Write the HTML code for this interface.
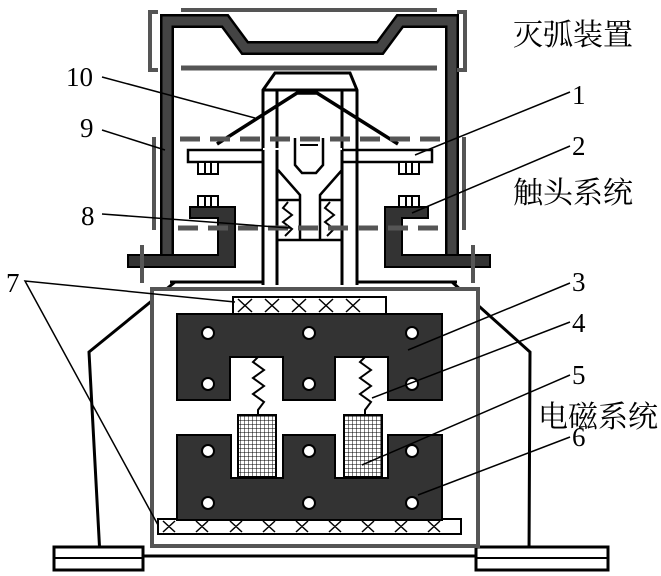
<!DOCTYPE html>
<html><head><meta charset="utf-8"><style>
html,body{margin:0;padding:0;background:#fff;}
svg{display:block;}
.n{font-family:"Liberation Serif",serif;font-size:27px;fill:#000;}
.c{font-family:"Liberation Serif","Noto Serif CJK SC","Noto Sans CJK SC",serif;font-size:30px;fill:#000;}
</style></head><body>
<svg width="661" height="576" viewBox="0 0 661 576" xmlns="http://www.w3.org/2000/svg">
<defs>
<pattern id="mesh" width="4" height="4" patternUnits="userSpaceOnUse"><rect width="4" height="4" fill="#fff"/><path d="M0 0H4M0 0V4" stroke="#000" stroke-width="1"/></pattern>
</defs>
<!-- housing -->
<path d="M175 282 L89 352 L100 556" fill="none" stroke="#000" stroke-width="3"/>
<path d="M452 282 L530 352 L529 556" fill="none" stroke="#000" stroke-width="3"/>
<line x1="170" y1="282" x2="457" y2="282" stroke="#000" stroke-width="3"/>
<rect x="54" y="547" width="89" height="23" fill="#fff" stroke="#000" stroke-width="3"/>
<line x1="54" y1="558" x2="143" y2="558" stroke="#000" stroke-width="2"/>
<rect x="476" y="547" width="132" height="23" fill="#fff" stroke="#000" stroke-width="3"/>
<line x1="476" y1="558" x2="608" y2="558" stroke="#000" stroke-width="2"/>
<line x1="143" y1="556" x2="476" y2="556" stroke="#000" stroke-width="3"/>
<!-- gray box -->
<rect x="152" y="289" width="326" height="257" fill="#fff" stroke="#555" stroke-width="4"/>
<!-- coils -->
<rect x="233" y="297" width="153" height="17" fill="#fff" stroke="#000" stroke-width="2"/>
<path d="M238 299 L252 312 M252 299 L238 312 M265 299 L279 312 M279 299 L265 312 M292 299 L306 312 M306 299 L292 312 M319 299 L333 312 M333 299 L319 312 M346 299 L360 312 M360 299 L346 312" stroke="#000" stroke-width="1.5"/>
<rect x="158" y="519" width="303" height="15" fill="#fff" stroke="#000" stroke-width="2"/>
<path d="M163 521 L175 532 M175 521 L163 532 M196 521 L208 532 M208 521 L196 532 M230 521 L242 532 M242 521 L230 532 M263 521 L275 532 M275 521 L263 532 M296 521 L308 532 M308 521 L296 532 M329 521 L341 532 M341 521 L329 532 M362 521 L374 532 M374 521 L362 532 M395 521 L407 532 M407 521 L395 532 M428 521 L440 532 M440 521 L428 532" stroke="#000" stroke-width="1.5"/>
<!-- upper E core -->
<path d="M177 314 H442 V400 H388 V357 H335 V400 H283 V357 H230 V400 H177 Z" fill="#333" stroke="#000" stroke-width="2"/>
<!-- lower E core -->
<path d="M177 435 H231 V478 H283 V435 H335 V478 H388 V435 H442 V520 H177 Z" fill="#333" stroke="#000" stroke-width="2"/>
<g fill="#fff" stroke="#000" stroke-width="2">
<circle cx="208" cy="333" r="6"/><circle cx="309" cy="333" r="6"/><circle cx="412" cy="333" r="6"/>
<circle cx="208" cy="384" r="6"/><circle cx="309" cy="384" r="6"/><circle cx="412" cy="384" r="6"/>
<circle cx="208" cy="451" r="6"/><circle cx="309" cy="451" r="6"/><circle cx="412" cy="451" r="6"/>
<circle cx="208" cy="503" r="6"/><circle cx="309" cy="503" r="6"/><circle cx="412" cy="503" r="6"/>
</g>
<!-- springs -->
<path d="M258 357 L253 362 L264 370 L253 378 L264 386 L253 394 L264 402 L258 410 L258 415" fill="none" stroke="#000" stroke-width="2"/>
<path d="M365 357 L360 362 L371 370 L360 378 L371 386 L360 394 L371 402 L365 410 L365 415" fill="none" stroke="#000" stroke-width="2"/>
<rect x="238" y="415" width="38" height="62" fill="url(#mesh)" stroke="#000" stroke-width="2"/>
<rect x="344" y="415" width="38" height="62" fill="url(#mesh)" stroke="#000" stroke-width="2"/>
<!-- arc chamber frame -->
<path d="M167 255 V21 H225 L245 48 H380 L400 21 H452 V255" fill="none" stroke="#000" stroke-width="14"/>
<path d="M167 255 V21 H225 L245 48 H380 L400 21 H452 V255" fill="none" stroke="#444" stroke-width="9"/>
<!-- gray brackets top -->
<path d="M158 12 H150 V70 H158" fill="none" stroke="#555" stroke-width="4"/>
<path d="M457 12 H465 V70 H457" fill="none" stroke="#555" stroke-width="4"/>
<line x1="181" y1="10" x2="437" y2="10" stroke="#555" stroke-width="4"/>
<line x1="181" y1="68" x2="437" y2="68" stroke="#555" stroke-width="5"/>
<!-- tube -->
<path d="M263 285 V90 L275 73 H350 L357 90 V285" fill="#fff" stroke="#000" stroke-width="3"/>
<line x1="263" y1="90" x2="357" y2="90" stroke="#000" stroke-width="3"/>
<line x1="277" y1="90" x2="277" y2="285" stroke="#000" stroke-width="3"/>
<line x1="342" y1="90" x2="342" y2="285" stroke="#000" stroke-width="3"/>
<!-- Y shape -->
<path d="M295 138 V165 L302 173 H316 L323 165 V138" fill="none" stroke="#000" stroke-width="2.5"/>
<path d="M278 170 L300 195 V240 M342 170 L320 195 V240 M277 200 H300 M320 200 H342 M277 240 H342" fill="none" stroke="#000" stroke-width="2.5"/>
<path d="M300 145 H318 M300 160 H318" stroke="#000" stroke-width="2"/>
<path d="M288 202 L283 208 L292 215 L283 222 L292 229 L285 236" fill="none" stroke="#000" stroke-width="2"/>
<path d="M330 202 L325 208 L334 215 L325 222 L334 229 L327 236" fill="none" stroke="#000" stroke-width="2"/>
<!-- moving contact bar -->
<rect x="188" y="150" width="244" height="12" fill="#fff" stroke="#000" stroke-width="2.5"/>
<rect x="263" y="148" width="79" height="16" fill="#fff"/>
<line x1="263" y1="150" x2="263" y2="164" stroke="#000" stroke-width="3"/>
<line x1="277" y1="150" x2="277" y2="164" stroke="#000" stroke-width="3"/>
<line x1="342" y1="150" x2="342" y2="164" stroke="#000" stroke-width="3"/>
<line x1="357" y1="150" x2="357" y2="164" stroke="#000" stroke-width="3"/>
<path d="M295 148 V164 M323 148 V164" stroke="#000" stroke-width="2.5"/>
<!-- bridge V -->
<path d="M217 144 L297 93 H317 L398 144" fill="none" stroke="#000" stroke-width="3.5"/>
<!-- contact tips -->
<g fill="#fff" stroke="#000" stroke-width="2">
<rect x="198" y="162" width="20" height="12"/><rect x="399" y="162" width="20" height="12"/>
<rect x="198" y="196" width="20" height="12"/><rect x="399" y="196" width="20" height="12"/>
</g>
<path d="M205 163 V173 M211 163 V173 M406 163 V173 M412 163 V173 M205 197 V207 M211 197 V207 M406 197 V207 M412 197 V207" stroke="#000" stroke-width="2"/>
<!-- brackets (stationary contacts) -->
<path d="M190 207 H235 V267 H128 V255 H218 V218 H190 Z" fill="#333" stroke="#000" stroke-width="2"/>
<path d="M428 207 H385 V267 H490 V255 H402 V218 H428 Z" fill="#333" stroke="#000" stroke-width="2"/>
<!-- gray dashed lines -->
<line x1="180" y1="139" x2="440" y2="139" stroke="#555" stroke-width="5" stroke-dasharray="20,10"/>
<line x1="178" y1="228" x2="442" y2="228" stroke="#555" stroke-width="5" stroke-dasharray="20,10"/>
<line x1="154" y1="137" x2="154" y2="230" stroke="#555" stroke-width="4"/>
<line x1="464" y1="137" x2="464" y2="230" stroke="#555" stroke-width="4"/>
<line x1="142" y1="245" x2="142" y2="283" stroke="#555" stroke-width="4"/>
<line x1="473" y1="245" x2="473" y2="283" stroke="#555" stroke-width="4"/>
<!-- leaders -->
<g stroke="#000" stroke-width="1.5" fill="none">
<line x1="102" y1="77" x2="255" y2="118"/>
<line x1="102" y1="130" x2="165" y2="150"/>
<line x1="102" y1="214" x2="290" y2="228"/>
<path d="M235 302 L25 281 L158 525"/>
<line x1="570" y1="92" x2="415" y2="155"/>
<line x1="570" y1="146" x2="412" y2="213"/>
<line x1="570" y1="283" x2="408" y2="350"/>
<line x1="570" y1="322" x2="372" y2="398"/>
<line x1="570" y1="375" x2="362" y2="465"/>
<line x1="570" y1="437" x2="418" y2="495"/>
</g>
<!-- labels -->
<text class="n" x="66" y="86">10</text>
<text class="n" x="80" y="137">9</text>
<text class="n" x="81" y="225">8</text>
<text class="n" x="6" y="292">7</text>
<text class="n" x="572" y="104">1</text>
<text class="n" x="572" y="155">2</text>
<text class="n" x="572" y="291">3</text>
<text class="n" x="572" y="332">4</text>
<text class="n" x="572" y="384">5</text>
<text class="n" x="572" y="446">6</text>
<text class="c" x="513" y="45">灭弧装置</text>
<text class="c" x="513" y="203">触头系统</text>
<text class="c" x="538" y="427">电磁系统</text>
</svg>
</body></html>
